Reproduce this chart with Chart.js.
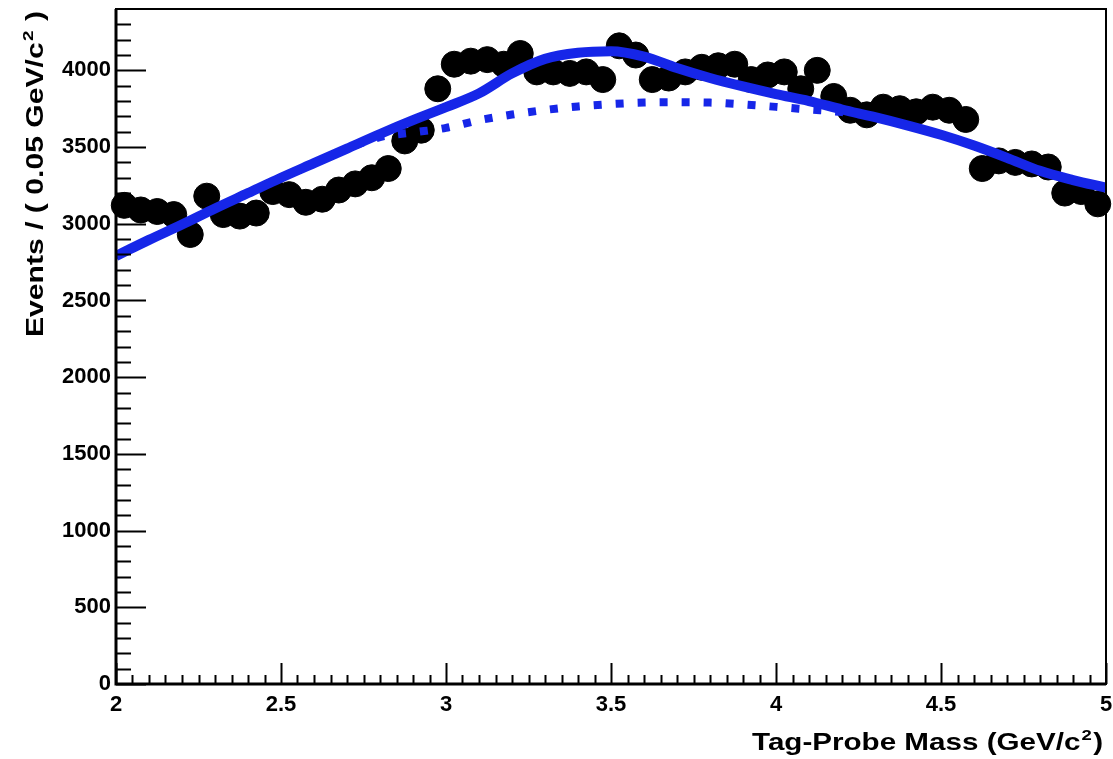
<!DOCTYPE html>
<html>
<head>
<meta charset="utf-8">
<script src="https://cdn.jsdelivr.net/npm/chart.js@4.4.1/dist/chart.umd.min.js"></script>
<style>
  html, body { margin: 0; padding: 0; background: #fff; }
  #wrap { width: 1113px; height: 759px; position: relative; }
</style>
</head>
<body>
<div id="wrap"><canvas id="massChart"></canvas></div>
<script>
// histogram bins (0.05 GeV/c^2 wide) and event counts
const binCenters = [
  2.025, 2.075, 2.125, 2.175, 2.225, 2.275, 2.325, 2.375, 2.425, 2.475,
  2.525, 2.575, 2.625, 2.675, 2.725, 2.775, 2.825, 2.875, 2.925, 2.975,
  3.025, 3.075, 3.125, 3.175, 3.225, 3.275, 3.325, 3.375, 3.425, 3.475,
  3.525, 3.575, 3.625, 3.675, 3.725, 3.775, 3.825, 3.875, 3.925, 3.975,
  4.025, 4.075, 4.125, 4.175, 4.225, 4.275, 4.325, 4.375, 4.425, 4.475,
  4.525, 4.575, 4.625, 4.675, 4.725, 4.775, 4.825, 4.875, 4.925, 4.975
];
const eventCounts = [
  3120, 3090, 3080, 3060, 2930, 3180, 3060, 3050, 3070, 3210,
  3190, 3140, 3160, 3220, 3260, 3300, 3360, 3540, 3610, 3880,
  4040, 4060, 4070, 4040, 4110, 3990, 3990, 3980, 3990, 3940,
  4160, 4100, 3940, 3950, 3990, 4020, 4030, 4040, 3940, 3970,
  3990, 3880, 4000, 3830, 3740, 3710, 3760, 3750, 3730, 3760,
  3740, 3680, 3360, 3410, 3400, 3390, 3370, 3200, 3210, 3130
];

// fit curves (total = solid, background = dotted)
const fitMass = [
  2.0, 2.1, 2.2, 2.3, 2.4, 2.5, 2.6, 2.7, 2.8, 2.9, 3.0,
  3.1, 3.2, 3.3, 3.4, 3.5, 3.6, 3.7, 3.8, 3.9, 4.0,
  4.1, 4.2, 4.3, 4.4, 4.5, 4.6, 4.7, 4.8, 4.9, 5.0
];
const fitTotal = [
  2790, 2895, 2995, 3100, 3200, 3300, 3395, 3490, 3585, 3675, 3760,
  3850, 3980, 4075, 4115, 4125, 4090, 4015, 3950, 3895, 3845,
  3800, 3745, 3695, 3640, 3580, 3510, 3430, 3345, 3285, 3235
];
const fitBackground = [
  2790, 2895, 2995, 3100, 3200, 3300, 3395, 3490, 3565, 3595, 3625,
  3675, 3712, 3742, 3765, 3780, 3790, 3792, 3790, 3778, 3762,
  3745, 3728, 3695, 3640, 3580, 3510, 3430, 3345, 3285, 3235
];

// axis tick labels
const xTickValues = [2, 2.5, 3, 3.5, 4, 4.5, 5];
const yTickValues = [0, 500, 1000, 1500, 2000, 2500, 3000, 3500, 4000];

const FONT = '"Liberation Sans", Arial, Helvetica, sans-serif';
const fitBlue = "rgb(22, 38, 232)";

function toXY(xs, ys) {
  return xs.map((v, i) => ({ x: v, y: ys[i] }));
}

// draws "main" + superscript + "tail", squeezed to a given width
function drawSupLabel(ctx, main, sup, tail, size, targetWidth) {
  ctx.font = `bold ${size}px ${FONT}`;
  const w1 = ctx.measureText(main).width;
  const w3 = ctx.measureText(tail).width;
  ctx.font = `bold ${Math.round(size * 0.62)}px ${FONT}`;
  const w2 = ctx.measureText(sup).width + 2;
  const total = w1 + w2 + w3;
  ctx.scale(targetWidth / total, 1);
  ctx.textAlign = "left";
  ctx.textBaseline = "alphabetic";
  ctx.font = `bold ${size}px ${FONT}`;
  ctx.fillText(main, 0, 0);
  ctx.font = `bold ${Math.round(size * 0.62)}px ${FONT}`;
  ctx.fillText(sup, w1 + 1, -size * 0.42);
  ctx.font = `bold ${size}px ${FONT}`;
  ctx.fillText(tail, w1 + w2, 0);
}

const rootFrame = {
  id: "rootFrame",
  afterDraw(chart) {
    const { ctx, chartArea: a } = chart;
    const xs = chart.scales.x;
    const ys = chart.scales.y;
    ctx.save();
    ctx.strokeStyle = "#000";
    ctx.fillStyle = "#000";
    ctx.lineWidth = 2;
    ctx.strokeRect(a.left, a.top, a.right - a.left, a.bottom - a.top);
    ctx.lineWidth = 3;
    ctx.beginPath();
    ctx.moveTo(a.left, a.top);
    ctx.lineTo(a.left, a.bottom);
    ctx.lineTo(a.right, a.bottom);
    ctx.stroke();

    // inward ticks, ROOT style
    ctx.lineWidth = 2;
    ctx.beginPath();
    for (let k = 0; k <= 60; k++) {
      const px = Math.round(xs.getPixelForValue(2 + k * 0.05)) + 0.5;
      const len = k % 10 === 0 ? 21 : 9;
      ctx.moveTo(px, a.bottom);
      ctx.lineTo(px, a.bottom - len);
    }
    for (let k = 0; k <= 43; k++) {
      const py = Math.round(ys.getPixelForValue(k * 100)) + 0.5;
      const len = k % 5 === 0 ? 30 : 15;
      ctx.moveTo(a.left, py);
      ctx.lineTo(a.left + len, py);
    }
    ctx.stroke();

    // axis titles
    ctx.save();
    ctx.translate(752, 750);
    drawSupLabel(ctx, "Tag-Probe Mass (GeV/c", "2", ")", 24, 351);
    ctx.restore();

    ctx.save();
    ctx.translate(43, 337);
    ctx.rotate(-Math.PI / 2);
    drawSupLabel(ctx, "Events / ( 0.05 GeV/c", "2", " )", 24, 326);
    ctx.restore();

    ctx.restore();
  },
};

function noScalePadding(scale) {
  scale.paddingTop = 0;
  scale.paddingBottom = 0;
  scale.paddingLeft = 0;
  scale.paddingRight = 0;
}

new Chart(document.getElementById("massChart"), {
  type: "scatter",
  data: {
    datasets: [
      {
        label: "total fit",
        type: "line",
        data: toXY(fitMass, fitTotal),
        borderColor: fitBlue,
        borderWidth: 10,
        pointRadius: 0,
        cubicInterpolationMode: "monotone",
        fill: false,
        order: 1,
      },
      {
        label: "background",
        type: "line",
        data: toXY(fitMass, fitBackground),
        borderColor: fitBlue,
        borderWidth: 8,
        borderDash: [8, 14],
        borderCapStyle: "butt",
        pointRadius: 0,
        cubicInterpolationMode: "monotone",
        fill: false,
        order: 2,
      },
      {
        label: "data",
        data: toXY(binCenters, eventCounts),
        backgroundColor: "#000",
        borderColor: "#000",
        pointRadius: 13,
        pointHoverRadius: 13,
        clip: false,
        order: 3,
      },
    ],
  },
  options: {
    responsive: true,
    maintainAspectRatio: false,
    animation: false,
    layout: { autoPadding: false, padding: { top: 9, right: 7, left: 0, bottom: 0 } },
    plugins: {
      legend: { display: false },
      tooltip: { enabled: false },
    },
    scales: {
      x: {
        type: "linear",
        min: 2,
        max: 5,
        grid: { display: false, drawTicks: false },
        border: { display: false },
        afterBuildTicks: (scale) => { scale.ticks = xTickValues.map((v) => ({ value: v })); },
        ticks: {
          autoSkip: false,
          maxRotation: 0,
          padding: 8,
          color: "#000",
          font: { family: FONT, size: 22, weight: "bold" },
          callback: (v) => String(v),
        },
        afterFit: (scale) => { scale.height = 75; noScalePadding(scale); },
      },
      y: {
        min: 0,
        max: 4400,
        grid: { display: false, drawTicks: false },
        border: { display: false },
        afterBuildTicks: (scale) => { scale.ticks = yTickValues.map((v) => ({ value: v })); },
        ticks: {
          autoSkip: false,
          padding: 5,
          color: "#000",
          font: { family: FONT, size: 22, weight: "bold" },
          callback: (v) => String(v),
        },
        afterFit: (scale) => { scale.width = 116; noScalePadding(scale); },
      },
    },
  },
  plugins: [rootFrame],
});
</script>
</body>
</html>
